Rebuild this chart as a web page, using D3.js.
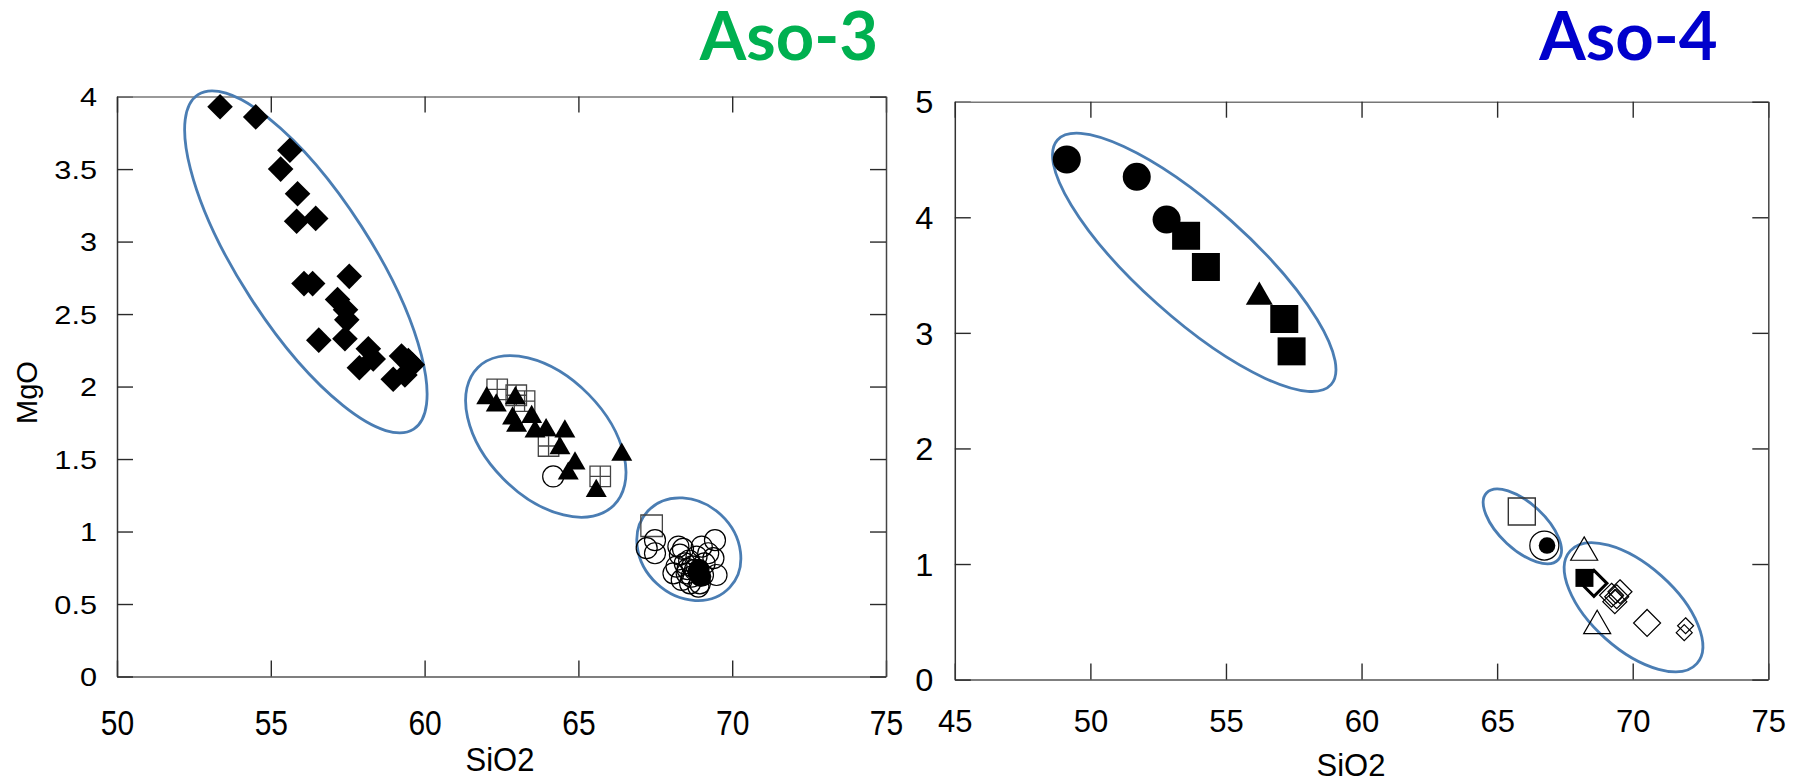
<!DOCTYPE html>
<html>
<head>
<meta charset="utf-8">
<script src="https://cdn.jsdelivr.net/npm/d3@7"></script>
<style>
  html, body { margin: 0; padding: 0; background: #fff; }
  svg { display: block; }
</style>
</head>
<body>
<div id="chart"></div>
<script>
// ---- Aso-3 (left panel) ----
const aso3XTicks = [50, 55, 60, 65, 70, 75];
const aso3YTicks = [0, 0.5, 1, 1.5, 2, 2.5, 3, 3.5, 4];

const aso3Diamonds = [
  [53.35, 3.93], [54.51, 3.86], [55.62, 3.63], [55.32, 3.50], [55.87, 3.33],
  [55.84, 3.14], [56.46, 3.16], [56.08, 2.71], [56.36, 2.71], [57.55, 2.76],
  [57.17, 2.60], [57.43, 2.53], [57.47, 2.46], [56.56, 2.32], [57.41, 2.33],
  [58.17, 2.26], [58.33, 2.19], [57.88, 2.13], [59.25, 2.21], [59.47, 2.18],
  [58.98, 2.05], [59.36, 2.08], [59.60, 2.15]
];
const aso3CrossSquares = [
  [62.36, 1.98], [62.98, 1.94], [63.25, 1.90], [64.03, 1.59], [65.71, 1.38]
];
const aso3Triangles = [
  [62.02, 1.92], [62.33, 1.87], [62.95, 1.92], [62.86, 1.78], [63.48, 1.79],
  [62.99, 1.73], [63.59, 1.69], [63.95, 1.70], [64.56, 1.69], [64.40, 1.575],
  [64.89, 1.47], [64.67, 1.40], [66.41, 1.53], [65.58, 1.28]
];
const aso3OpenSquares = [[67.38, 1.04]];
const aso3OpenCircles = [
  [64.18, 1.38],
  [67.49, 0.94], [67.22, 0.885], [67.49, 0.85], [68.25, 0.896], [68.30, 0.84],
  [68.19, 0.758], [68.46, 0.78], [68.52, 0.712], [68.36, 0.666], [68.68, 0.689],
  [69.01, 0.896], [69.44, 0.94], [69.39, 0.816], [69.22, 0.85], [69.49, 0.70],
  [68.95, 0.643], [68.63, 0.643], [68.79, 0.735], [68.09, 0.712], [68.84, 0.827],
  [68.40, 0.88], [68.60, 0.80], [69.10, 0.78], [68.70, 0.76], [68.55, 0.74],
  [68.90, 0.62], [69.05, 0.70]
];
const aso3FilledCircles = [[68.88, 0.72], [68.98, 0.69], [68.92, 0.74]];
// group outlines: centre in data units
const aso3Groups = [[56.14, 2.86], [63.94, 1.656], [68.59, 0.878]];

// ---- Aso-4 (right panel) ----
const aso4XTicks = [45, 50, 55, 60, 65, 70, 75];
const aso4YTicks = [0, 1, 2, 3, 4, 5];

const aso4FilledCircles = [[49.13, 4.50], [51.71, 4.35], [52.81, 3.98]];
const aso4FilledSquares = [[53.53, 3.84], [54.26, 3.57], [57.15, 3.12], [57.42, 2.84]];
const aso4FilledTriangles = [[56.23, 3.31]];
const aso4OpenSquares = [[65.91, 1.455]];
const aso4OpenCircles = [[66.74, 1.16]];
const aso4DotCircles = [[66.84, 1.16]];
const aso4OpenTriangles = [[68.21, 1.10], [68.69, 0.465]];
const aso4BoldDiamonds = [[68.57, 0.833]];
const aso4SmallSquares = [[68.22, 0.88]];
const aso4Diamonds = [[69.22, 0.73], [69.41, 0.717], [69.53, 0.76], [69.34, 0.674]];
const aso4InnerDiamonds = [[69.38, 0.72]];
const aso4LargeDiamonds = [[70.53, 0.49]];
const aso4SmallDiamonds = [[71.95, 0.466], [71.90, 0.406]];
const aso4Groups = [[53.83, 3.61], [65.93, 1.326], [70.03, 0.626]];

// ---- drawing ----
const width = 1804, height = 778;
const svg = d3.select("#chart").append("svg")
  .attr("width", width).attr("height", height)
  .style("font-family", "'Liberation Sans', Arial, sans-serif");

function shapePath(kind, s) {
  if (kind === "circle") return d3.symbol(d3.symbolCircle, Math.PI * s * s)();
  if (kind === "triangle") {
    const k = s / (2 * Math.sqrt(3));
    return d3.symbol(d3.symbolTriangle, 3 * Math.sqrt(3) * k * k)();
  }
  if (kind === "diamond") return `M0,${-s}L${s},0L0,${s}L${-s},0Z`;
  const h = s / 2;
  const sq = `M${-h},${-h}H${h}V${h}H${-h}Z`;
  if (kind === "crossSquare") return sq + `M${-h},0H${h}M0,${-h}V${h}`;
  return sq;
}

function drawPanel(p) {
  const x = d3.scaleLinear().domain(p.xDomain).range([p.left, p.right]);
  const y = d3.scaleLinear().domain(p.yDomain).range([p.bottom, p.top]);
  const g = svg.append("g");
  const tick = 16;

  const styleAxis = (ax, color) => {
    ax.select(".domain").attr("stroke", color).attr("stroke-width", 1.5);
    ax.selectAll(".tick line").attr("stroke", "#2a2a2a").attr("stroke-width", 1.4);
  };

  const bottom = g.append("g").attr("transform", `translate(0,${p.bottom})`)
    .call(d3.axisBottom(x).tickValues(p.xTicks).tickSizeInner(-tick).tickSizeOuter(0)
      .tickFormat(d3.format("~g")));
  styleAxis(bottom, "#555");
  bottom.selectAll(".tick text")
    .attr("y", null).attr("dy", null).attr("fill", "#000")
    .attr("font-size", p.xFont)
    .attr("font-family", "'Liberation Sans', Arial, sans-serif")
    .attr("transform", `translate(0,${p.xLabelBase}) scale(1,${p.xStretch})`);

  const left = g.append("g").attr("transform", `translate(${p.left},0)`)
    .call(d3.axisLeft(y).tickValues(p.yTicks).tickSizeInner(-tick).tickSizeOuter(0)
      .tickFormat(d3.format("~g")));
  styleAxis(left, "#333");
  left.selectAll(".tick text")
    .attr("x", null).attr("dy", null).attr("fill", "#000")
    .attr("font-size", p.yFont)
    .attr("font-family", "'Liberation Sans', Arial, sans-serif")
    .attr("transform", `translate(${p.yLabelGap},${p.yFont * 0.36}) scale(${p.yStretch},1)`);

  const top = g.append("g").attr("transform", `translate(0,${p.top})`)
    .call(d3.axisTop(x).tickValues(p.xTicks).tickSizeInner(-tick).tickSizeOuter(0).tickFormat(""));
  styleAxis(top, "#777");

  const right = g.append("g").attr("transform", `translate(${p.right},0)`)
    .call(d3.axisRight(y).tickValues(p.yTicks).tickSizeInner(-tick).tickSizeOuter(0).tickFormat(""));
  styleAxis(right, "#444");

  // group outlines
  g.append("g").selectAll("ellipse")
    .data(p.groups)
    .join("ellipse")
    .attr("transform", (d, i) => `translate(${x(d[0])},${y(d[1])}) rotate(${p.groupShape[i][2]})`)
    .attr("rx", (d, i) => p.groupShape[i][0])
    .attr("ry", (d, i) => p.groupShape[i][1])
    .attr("fill", "none")
    .attr("stroke", "#4a7db3")
    .attr("stroke-width", 2.8);

  // markers
  p.series.forEach(s => {
    g.append("g").selectAll("path")
      .data(s.data)
      .join("path")
      .attr("transform", d => `translate(${x(d[0])},${y(d[1])})`)
      .attr("d", shapePath(s.kind, s.size))
      .attr("fill", s.filled ? "#000" : "none")
      .attr("stroke", s.filled ? "none" : (s.stroke || "#000"))
      .attr("stroke-width", s.strokeWidth || 1.2);
  });

  // axis titles
  g.append("text")
    .attr("x", p.xTitleX).attr("y", 0)
    .attr("transform", `translate(0,${p.xTitleY}) scale(1,${p.xTitleStretch})`)
    .attr("text-anchor", "middle")
    .attr("font-size", p.xTitleFont)
    .text("SiO2");
  if (p.yTitle) {
    g.append("text")
      .attr("transform", `translate(${p.yTitleX},${(p.top + p.bottom) / 2 + 6}) rotate(-90)`)
      .attr("text-anchor", "middle")
      .attr("font-size", 29)
      .text(p.yTitle);
  }

  // panel title
  g.append("text")
    .attr("x", p.titleX).attr("y", 60)
    .attr("text-anchor", "end")
    .attr("font-family", "Lato, 'Open Sans', sans-serif")
    .attr("font-weight", 700)
    .attr("font-size", 67)
    .attr("fill", p.titleColor)
    .text(p.title);
}

drawPanel({
  left: 117, right: 886, top: 96.6, bottom: 676.5,
  xDomain: [50, 75], yDomain: [0, 4],
  xTicks: aso3XTicks, yTicks: aso3YTicks,
  xFont: 30, xStretch: 1.17, xLabelBase: 58,
  yFont: 26, yStretch: 1.18, yLabelGap: -20,
  xTitleX: 500, xTitleY: 771, xTitleFont: 31, xTitleStretch: 1.1,
  yTitle: "MgO", yTitleX: 37,
  title: "Aso-3", titleX: 878, titleColor: "#00b050",
  groups: aso3Groups,
  groupShape: [[199, 66, 57.2], [96.8, 60, 45.5], [56, 47, 43]],
  series: [
    { data: aso3Diamonds, kind: "diamond", size: 12.8, filled: true },
    { data: aso3CrossSquares, kind: "crossSquare", size: 20.5, stroke: "#444", strokeWidth: 1.3 },
    { data: aso3Triangles, kind: "triangle", size: 21, filled: true },
    { data: aso3OpenSquares, kind: "square", size: 21.5, stroke: "#444", strokeWidth: 1.3 },
    { data: aso3OpenCircles, kind: "circle", size: 10.5 },
    { data: aso3FilledCircles, kind: "circle", size: 10.5, filled: true }
  ]
});

drawPanel({
  left: 954.8, right: 1768.3, top: 101.7, bottom: 679.6,
  xDomain: [45, 75], yDomain: [0, 5],
  xTicks: aso4XTicks, yTicks: aso4YTicks,
  xFont: 31, xStretch: 1.0, xLabelBase: 52,
  yFont: 31, yStretch: 1.05, yLabelGap: -21.5,
  xTitleX: 1351, xTitleY: 776, xTitleFont: 31, xTitleStretch: 1.0,
  title: "Aso-4", titleX: 1717.5, titleColor: "#0000cc",
  groups: aso4Groups,
  groupShape: [[183.5, 55.6, 41.8], [49, 23, 43], [84.8, 42, 41.7]],
  series: [
    { data: aso4FilledCircles, kind: "circle", size: 14, filled: true },
    { data: aso4FilledSquares, kind: "square", size: 28, filled: true },
    { data: aso4FilledTriangles, kind: "triangle", size: 27, filled: true },
    { data: aso4OpenSquares, kind: "square", size: 27, stroke: "#333", strokeWidth: 1.4 },
    { data: aso4OpenCircles, kind: "circle", size: 14.5 },
    { data: aso4DotCircles, kind: "circle", size: 8.3, filled: true },
    { data: aso4OpenTriangles, kind: "triangle", size: 27 },
    { data: aso4BoldDiamonds, kind: "diamond", size: 13, strokeWidth: 3 },
    { data: aso4SmallSquares, kind: "square", size: 18, filled: true },
    { data: aso4Diamonds, kind: "diamond", size: 12 },
    { data: aso4InnerDiamonds, kind: "diamond", size: 7 },
    { data: aso4LargeDiamonds, kind: "diamond", size: 13.5 },
    { data: aso4SmallDiamonds, kind: "diamond", size: 8 }
  ]
});
</script>
</body>
</html>
